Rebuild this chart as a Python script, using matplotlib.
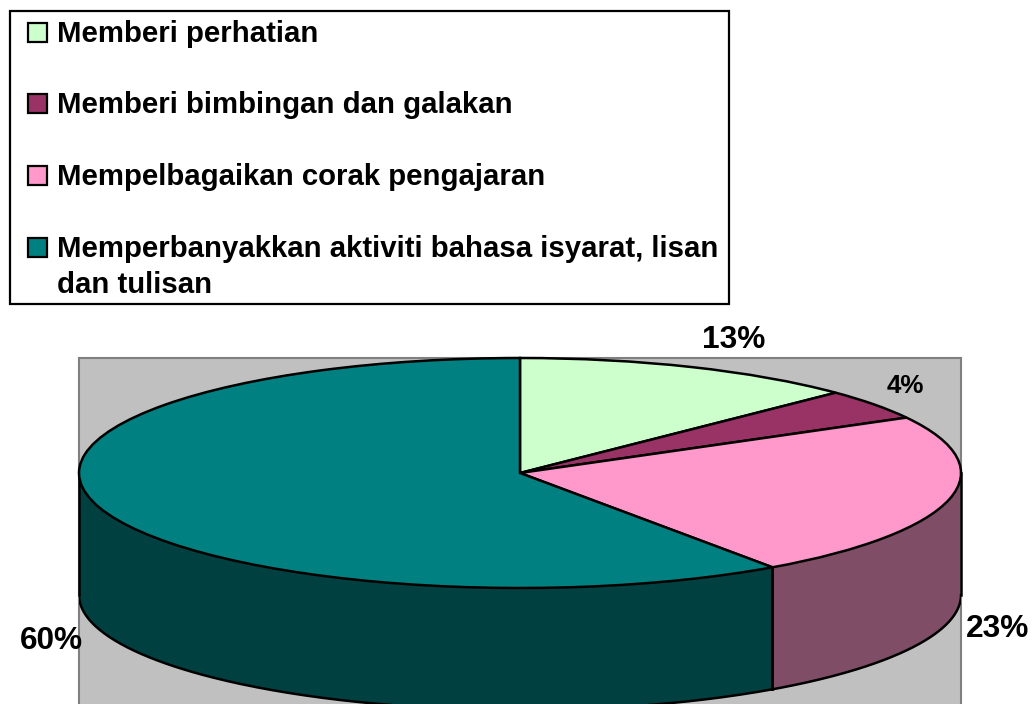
import numpy as np
import matplotlib
matplotlib.use('Agg')
import matplotlib.pyplot as plt
from matplotlib.patches import Rectangle

W, H = 1034, 704

categories = ['Memberi perhatian',
              'Memberi bimbingan dan galakan',
              'Mempelbagaikan corak pengajaran',
              'Memperbanyakkan aktiviti bahasa isyarat, lisan\ndan tulisan']
# estimated from the slice edges, they round to the printed 13 / 4 / 23 / 60
values = [12.7, 4.3, 23.3, 59.7]

top_colors = ['#CCFFCC', '#993366', '#FF99CC', '#008080']
side_colors = {2: '#804D66', 3: '#004040'}

plt.rcParams['font.family'] = ['Liberation Sans', 'DejaVu Sans']
plt.rcParams['font.weight'] = 'bold'

fig = plt.figure(figsize=(W / 100, H / 100), dpi=100)

# plot area in pixels
left, right, top, bottom = 79, 961, 358, 704
ax = fig.add_axes([left / W, 1 - bottom / H, (right - left) / W, (bottom - top) / H])

wedges, _ = ax.pie(values, colors=top_colors, startangle=90, counterclock=False,
                   frame=True, radius=1,
                   wedgeprops={'edgecolor': 'black', 'linewidth': 1.8, 'clip_on': False, 'zorder': 5})

# squash the circle into an ellipse
ry = 115
cy = 473
depth = 122 / ry
ax.set_aspect('auto')
ax.set_xlim(-1, 1)
ax.set_ylim((cy - bottom) / ry, 1)
ax.set_xticks([])
ax.set_yticks([])
ax.set_facecolor('#C0C0C0')
for name in ['top', 'left', 'right']:
    ax.spines[name].set_color('#808080')
    ax.spines[name].set_linewidth(1.5)
ax.spines['bottom'].set_visible(False)

# side wall, front half only
edges = np.cumsum(values) / np.sum(values) * 360
for i in [2, 3]:
    a0 = max(edges[i - 1], 90)
    a1 = min(edges[i], 270)
    t = np.radians(np.linspace(a0, a1, 200))
    x, y = np.sin(t), np.cos(t)
    ax.fill_between(x, y, y - depth, color=side_colors[i], linewidth=0, zorder=2)
    ax.plot(x, y - depth, color='black', lw=1.8, zorder=3)
    ax.plot([x[0], x[0]], [y[0], y[0] - depth], color='black', lw=1.8, zorder=3, clip_on=False)
    ax.plot([x[-1], x[-1]], [y[-1], y[-1] - depth], color='black', lw=1.8, zorder=3, clip_on=False)

# percent labels
label_pos = [(734, 340), (905, 386), (998, 629), (51, 641)]
label_size = [22.8, 18.6, 22.8, 22.8]
for v, (px, py), size in zip(values, label_pos, label_size):
    fig.text(px / W, 1 - py / H, f'{v:.0f}%', ha='center', va='center', fontsize=size,
             fontweight='bold', color='black', zorder=10)

# legend box, drawn by hand so the last swatch stays on the first text line
fig.add_artist(Rectangle((10 / W, 1 - 304 / H), 719 / W, 293 / H, transform=fig.transFigure,
                         facecolor='white', edgecolor='black', linewidth=1.6, zorder=1))
baselines = [42, 113, 185, 257]
for label, color, base in zip(categories, top_colors, baselines):
    fig.add_artist(Rectangle((28 / W, 1 - base / H), 19 / W, 19 / H, transform=fig.transFigure,
                             facecolor=color, edgecolor='black', linewidth=1.6, zorder=2))
    for j, line in enumerate(label.split('\n')):
        fig.text(57 / W, 1 - (base + 36 * j) / H, line, ha='left', va='baseline',
                 fontsize=21.2, fontweight='bold', color='black', zorder=3)

fig.savefig('out.png', dpi=100)
